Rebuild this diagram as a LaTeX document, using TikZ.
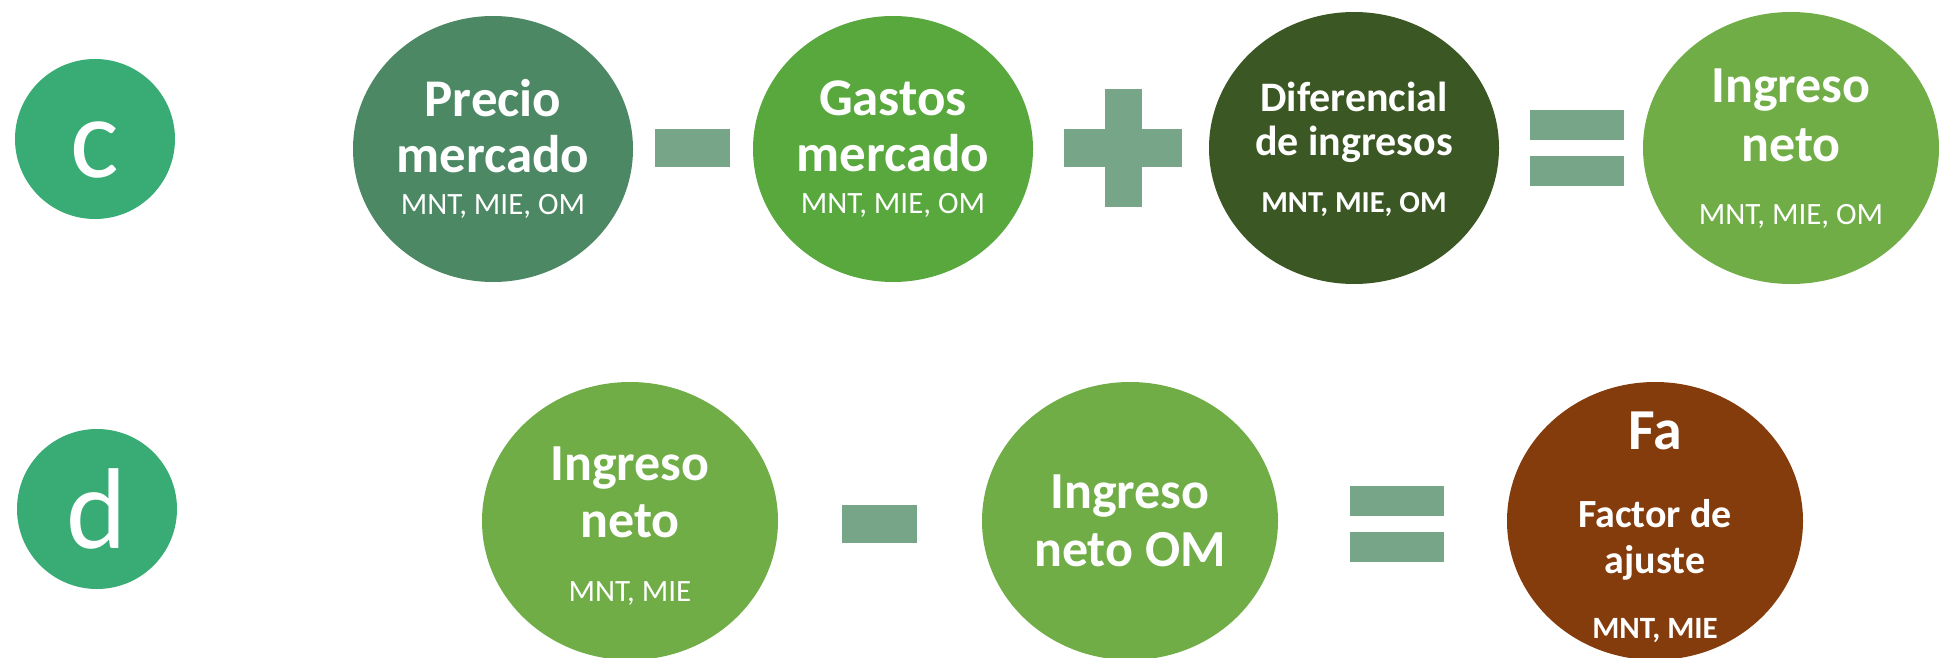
\documentclass[tikz,border=0pt]{standalone}
\usepackage{fontspec}
\setmainfont{Carlito}
\usepackage{tikz}
\usetikzlibrary{shapes.geometric}

\definecolor{letragreen}{RGB}{56,172,116}
\definecolor{preciogreen}{RGB}{76,136,100}
\definecolor{gastosgreen}{RGB}{88,168,61}
\definecolor{difgreen}{RGB}{58,87,36}
\definecolor{netogreen}{RGB}{112,173,71}
\definecolor{fabrown}{RGB}{132,60,12}
\definecolor{opgreen}{RGB}{119,165,136}

\begin{document}
\begin{tikzpicture}[x=1pt,y=-1pt,
  ell/.style={ellipse,inner sep=0pt,minimum width=280pt,minimum height=266pt},
  big/.style={ellipse,inner sep=0pt,minimum width=296pt,minimum height=278pt},
  letra/.style={circle,fill=letragreen,minimum size=160pt,inner sep=0pt,text=white,
    font=\fontsize{115}{115}\selectfont,text height=100pt,text depth=22pt},
  bar/.style={rectangle,fill=opgreen,inner sep=0pt,minimum width=75pt,minimum height=38pt},
  eqbar/.style={bar,minimum width=94pt,minimum height=30pt},
  txt/.style={text=white,align=center,inner sep=0pt}]
\useasboundingbox (0,0) rectangle (1939,658);

% fila c
\node [letra] at (95,139) (c) {c};
\node [ell,fill=preciogreen] at (493,149) (precio) {};
\node [bar] at (692.5,148) (menos1) {};
\node [ell,fill=gastosgreen] at (893,149) (gastos) {};
\node [bar,minimum width=118pt] at (1123,148) (mas1) {};
\node [bar,minimum width=37pt,minimum height=118pt] at (1123,148) (mas1v) {};
\node [ell,fill=difgreen,minimum width=290pt,minimum height=272pt] at (1354,148) (dif) {};
\node [eqbar] at (1577,125) (igual1a) {};
\node [eqbar] at (1577,171) (igual1b) {};
\node [big,fill=netogreen,minimum height=272pt] at (1791,148) (neto1) {};

\node [txt,font=\bfseries\fontsize{53}{56}\selectfont] at (precio) (precio-t)
  {Precio\\mercado\\[-14pt]{\mdseries\fontsize{31}{31}\selectfont MNT, MIE, OM}};
\node [txt,font=\bfseries\fontsize{53}{56}\selectfont] at (gastos) (gastos-t)
  {Gastos\\mercado\\[-14pt]{\mdseries\fontsize{31}{31}\selectfont MNT, MIE, OM}};
\node [txt,font=\bfseries\fontsize{42}{44}\selectfont,yshift=-1pt] at (dif) (dif-t)
  {Diferencial\\de ingresos\\[13pt]{\fontsize{30.5}{31}\selectfont MNT, MIE, OM}};
\node [txt,font=\bfseries\fontsize{52}{59}\selectfont,yshift=-1pt] at (neto1) (neto1-t)
  {Ingreso\\neto\\[4pt]{\mdseries\fontsize{31}{31}\selectfont MNT, MIE, OM}};

% fila d
\node [letra] at (97,509) (d) {d};
\node [big,fill=netogreen] at (630,521) (neto2) {};
\node [bar] at (879.5,524) (menos2) {};
\node [big,fill=netogreen] at (1130,521) (netoom) {};
\node [eqbar] at (1397,501) (igual2a) {};
\node [eqbar] at (1397,546.5) (igual2b) {};
\node [big,fill=fabrown] at (1655,521) (fa) {};

\node [txt,font=\bfseries\fontsize{52}{57}\selectfont,yshift=-5pt] at (neto2) (neto2-t)
  {Ingreso\\neto\\[7pt]{\mdseries\fontsize{31}{31}\selectfont MNT, MIE}};
\node [txt,font=\bfseries\fontsize{52}{58}\selectfont] at (netoom) (netoom-t)
  {Ingreso\\neto OM};
\node [txt,font=\bfseries\fontsize{40}{46}\selectfont,yshift=-6pt] at (fa) (fa-t)
  {{\fontsize{58}{58}\selectfont Fa}\\[32pt]Factor de\\ajuste\\[19pt]{\fontsize{31}{31}\selectfont MNT, MIE}};
\end{tikzpicture}
\end{document}
